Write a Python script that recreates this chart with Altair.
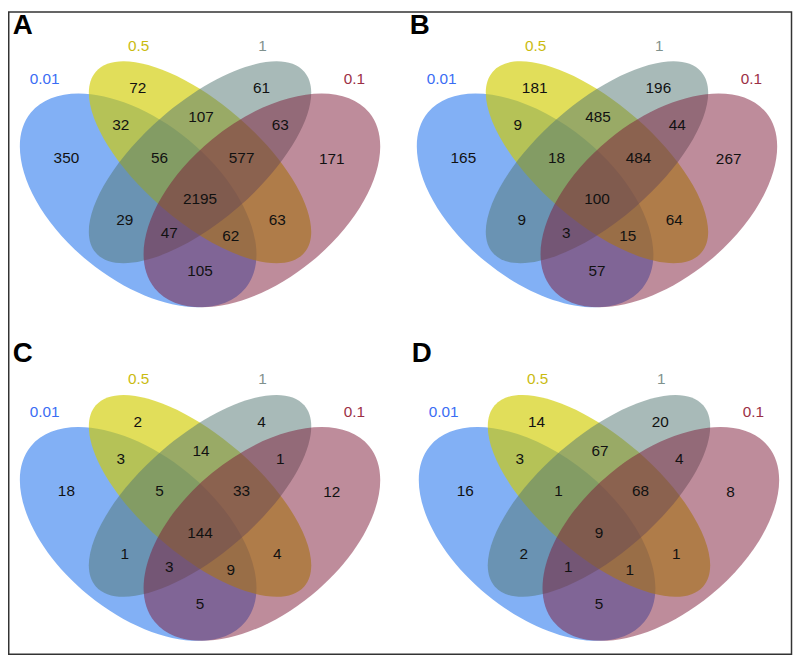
import altair as alt
import pandas as pd

# ---------------- data ----------------
PANELS = ["A", "B", "C", "D"]
PANEL_DX = [0, 401, 0, 403]
PANEL_DY = [0, 0, 337, 337]
LETTER_X = [23, 424, 23, 426]
LETTER_Y = [23, 23, 354, 354]

SETS = ["0.01", "0.5", "1", "0.1"]
SET_COLORS = ["#0561eb", "#d1cd02", "#517571", "#7d1937"]
SET_OPACITY = [0.5, 0.65, 0.5, 0.5]
SET_LABEL_COLORS = ["#3a6cf4", "#cabb10", "#7f918d", "#9b3045"]
SET_LABEL_X = [45, 140, 265, 358]
SET_LABEL_Y = [76, 43, 43, 76]

ELL_CX = [139.5, 202, 202, 264.5]
ELL_CY = [199, 160.5, 160.5, 199]
ELL_A = [140, 139.5, 139.5, 140]
ELL_B = [79.6, 59.6, 59.6, 79.6]
ELL_ANGLE = [39.3, 41, 139, 140.7]

REGIONS = ["b", "y", "g", "m", "by", "yg", "gm", "byg", "ygm", "bygm",
           "bg", "ym", "bgm", "bym", "bm"]
REGION_X = [67, 139, 264, 335, 122, 203, 283, 161, 244, 202, 126, 280, 171, 233, 202]
REGION_Y = [156, 86, 86, 157, 123, 115, 123, 156, 156, 198, 219, 219, 232, 235, 270]

COUNTS_A = [350, 72, 61, 171, 32, 107, 63, 56, 577, 2195, 29, 63, 47, 62, 105]
COUNTS_B = [165, 181, 196, 267, 9, 485, 44, 18, 484, 100, 9, 64, 3, 15, 57]
COUNTS_C = [18, 2, 4, 12, 3, 14, 1, 5, 33, 144, 1, 4, 3, 9, 5]
COUNTS_D = [16, 14, 20, 8, 3, 67, 4, 1, 68, 9, 2, 1, 1, 1, 5]
COUNTS = [COUNTS_A, COUNTS_B, COUNTS_C, COUNTS_D]


def ellipse_path(ratio):
    r = round(ratio, 4)
    return f"M -1 0 A 1 {r} 0 1 1 1 0 A 1 {r} 0 1 1 -1 0 Z"


# ---------------- tables ----------------
ell_rows, lab_rows, cnt_rows, let_rows = [], [], [], []
z = 0
for p, panel in enumerate(PANELS):
    dx, dy = PANEL_DX[p], PANEL_DY[p]
    for s, name in enumerate(SETS):
        ell_rows.append(dict(panel=panel, set=name, cx=ELL_CX[s] + dx, cy=ELL_CY[s] + dy,
                             size=(2 * ELL_A[s]) ** 2, angle=ELL_ANGLE[s],
                             shape=ellipse_path(ELL_B[s] / ELL_A[s]),
                             color=SET_COLORS[s], op=SET_OPACITY[s], z=z))
        z += 1
        lab_rows.append(dict(panel=panel, text=name, x=SET_LABEL_X[s] + dx,
                             y=SET_LABEL_Y[s] + dy, color=SET_LABEL_COLORS[s]))
    for r, reg in enumerate(REGIONS):
        cnt_rows.append(dict(panel=panel, region=reg, text=str(COUNTS[p][r]),
                             x=REGION_X[r] + dx, y=REGION_Y[r] + dy))
    let_rows.append(dict(text=panel, x=LETTER_X[p], y=LETTER_Y[p]))

ell_df = pd.DataFrame(ell_rows)
lab_df = pd.DataFrame(lab_rows)
cnt_df = pd.DataFrame(cnt_rows)
let_df = pd.DataFrame(let_rows)
border_df = pd.DataFrame([dict(x=8.75, x2=799.5, y=8.75, y2=657.5)])

W, H = 793, 651
xs = alt.Scale(domain=[8, 8 + W], nice=False, zero=False)
ys = alt.Scale(domain=[8, 8 + H], nice=False, zero=False, reverse=True)

ellipses = alt.Chart(ell_df).mark_point(filled=True, strokeWidth=0).encode(
    x=alt.X("cx:Q", scale=xs, axis=None),
    y=alt.Y("cy:Q", scale=ys, axis=None),
    size=alt.Size("size:Q", scale=None),
    angle=alt.Angle("angle:Q", scale=None),
    shape=alt.Shape("shape:N", scale=None),
    color=alt.Color("color:N", scale=None),
    opacity=alt.Opacity("op:Q", scale=None),
    order=alt.Order("z:Q"),
)

counts = alt.Chart(cnt_df).mark_text(font="Liberation Sans", fontSize=15.5, color="#111111",
                                     baseline="middle", align="center").encode(
    x=alt.X("x:Q", scale=xs, axis=None),
    y=alt.Y("y:Q", scale=ys, axis=None),
    text="text:N",
)

set_labels = alt.Chart(lab_df).mark_text(font="Liberation Sans", fontSize=15.5,
                                         baseline="middle", align="center").encode(
    x=alt.X("x:Q", scale=xs, axis=None),
    y=alt.Y("y:Q", scale=ys, axis=None),
    text="text:N",
    color=alt.Color("color:N", scale=None),
)

letters = alt.Chart(let_df).mark_text(font="Liberation Sans", fontSize=28, fontWeight="bold",
                                      color="#000000", baseline="middle", align="center").encode(
    x=alt.X("x:Q", scale=xs, axis=None),
    y=alt.Y("y:Q", scale=ys, axis=None),
    text="text:N",
)

border = alt.Chart(border_df).mark_rect(fillOpacity=0, stroke="#333333", strokeWidth=1.5).encode(
    x=alt.X("x:Q", scale=xs, axis=None),
    x2="x2:Q",
    y=alt.Y("y:Q", scale=ys, axis=None),
    y2="y2:Q",
)

chart = alt.layer(ellipses, counts, set_labels, letters, border).properties(
    width=W, height=H, padding=0, autosize=alt.AutoSizeParams(type="none")
).configure_view(stroke=None)

chart.save("out.html", embed_options={"renderer": "svg", "actions": False})
